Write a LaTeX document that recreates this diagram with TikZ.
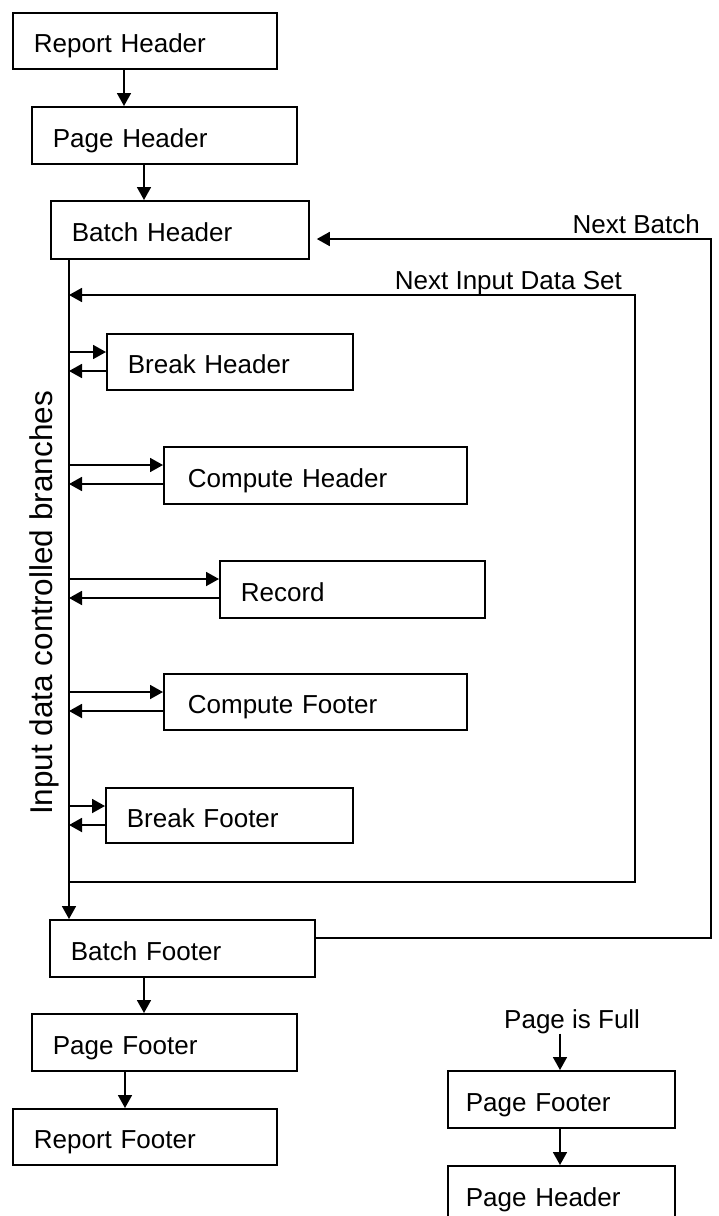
\documentclass[tikz,border=0pt]{standalone}
\usepackage{fontspec}
\setmainfont{Liberation Sans}
\usetikzlibrary{arrows.meta,calc}
\begin{document}
\begin{tikzpicture}[x=1pt,y=-1pt,
  box/.style={draw, line width=1.8pt, anchor=north west, inner xsep=21pt, inner ysep=0pt, align=left, text height=24pt, text depth=0pt, font=\fontsize{26}{30}\selectfont},
  arr/.style={line width=1.8pt, -{Triangle[length=13pt,width=14pt]}},
  lbl/.style={inner sep=0pt, font=\fontsize{26}{30}\selectfont}]
\useasboundingbox (0,0) rectangle (718,1216);
\clip (0,0) rectangle (718,1216);
% boxes
\node[box, text width=222pt, minimum height=56pt] (RH) at (12,12) {Report Header};
\node[box, text width=223pt, minimum height=57pt] (PH) at (31,106) {Page Header};
\node[box, text width=216pt, minimum height=58pt] (BH) at (50,200) {Batch Header};
\node[box, text width=204pt, minimum height=56pt] (BrH) at (106,333) {Break Header};
\node[box, inner xsep=24pt, text width=255pt, minimum height=57pt] (CH) at (163,446) {Compute Header};
\node[box, text width=223pt, minimum height=57pt] (Rec) at (219,560) {Record};
\node[box, inner xsep=24pt, text width=255pt, minimum height=56pt] (CF) at (163,673) {Compute Footer};
\node[box, text width=205pt, minimum height=55pt] (BrF) at (105,787) {Break Footer};
\node[box, text width=223pt, minimum height=57pt] (BF) at (49,919) {Batch Footer};
\node[box, text width=223pt, minimum height=57pt] (PF) at (31,1013) {Page Footer};
\node[box, text width=222pt, minimum height=56pt] (RF) at (12,1108) {Report Footer};
\node[box, inner xsep=18pt, text width=191pt, minimum height=57pt] (PF2) at (447,1070) {Page Footer};
\node[box, inner xsep=18pt, text width=191pt, minimum height=57pt] (PH2) at (447,1165) {Page Header};
% labels
\node[lbl, anchor=base east] (nb) at (700,233) {Next Batch};
\node[lbl, anchor=base east] (nids) at (622,289) {Next Input Data Set};
\node[lbl, anchor=base west] (PIF) at (504,1028) {Page is Full};
\node[lbl, rotate=90, font=\fontsize{31.5}{34}\selectfont] (idcb) at (44,603) {Input data controlled branches};
% top chain
\coordinate (a1) at ([xshift=112pt]RH.south west);
\draw[arr] (a1) -- (a1 |- PH.north);
\coordinate (a2) at ([xshift=113pt]PH.south west);
\draw[arr] (a2) -- (a2 |- BH.north);
% spine
\coordinate (sx) at ([xshift=19pt]BH.south west);
\draw[arr] (sx) -- (sx |- BF.north);
% branches
\foreach \b in {BrH,CH,Rec,CF,BrF}{
  \coordinate (\b i) at ([yshift=-19pt]\b.north west);
  \coordinate (\b o) at ([yshift=-38pt]\b.north west);
  \draw[arr] (sx |- \b i) -- (\b i);
  \draw[arr] (\b o) -- (sx |- \b o);
}
% next input data set loop
\coordinate (lt) at (635,295);
\coordinate (lb) at (635,882);
\draw[arr] (sx |- lb) -- (lb) -- (lt) -- (sx |- lt);
% next batch loop
\coordinate (bfo) at ([yshift=-19pt]BF.north east);
\coordinate (bhi) at ([yshift=-39pt,xshift=7pt]BH.north east);
\coordinate (nbx) at (711,0);
\draw[arr] (bfo) -- (nbx |- bfo) -- (nbx |- bhi) -- (bhi);
% bottom chain
\coordinate (a3) at ([xshift=95pt]BF.south west);
\draw[arr] (a3) -- (a3 |- PF.north);
\coordinate (a4) at ([xshift=94pt]PF.south west);
\draw[arr] (a4) -- (a4 |- RF.north);
% page is full
\coordinate (a5) at ([xshift=113pt]PF2.north west);
\draw[arr] (a5 |- PIF.south) -- (a5);
\coordinate (a6) at ([xshift=113pt]PF2.south west);
\draw[arr] (a6) -- (a6 |- PH2.north);
\end{tikzpicture}
\end{document}
